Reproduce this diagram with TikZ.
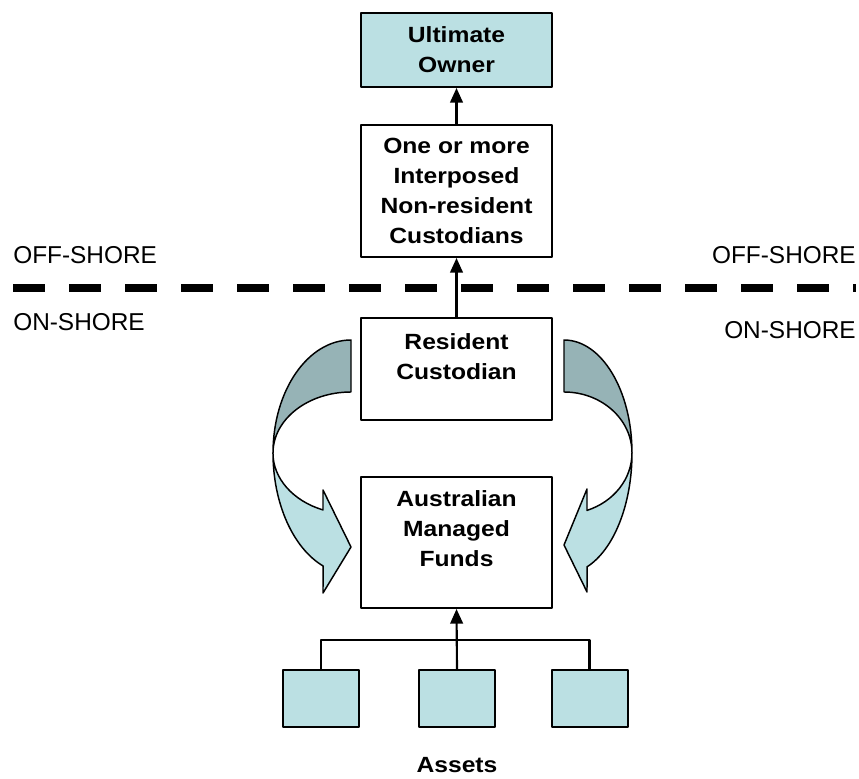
\documentclass[tikz,border=0pt]{standalone}
\usepackage{fontspec}
\setmainfont{Liberation Sans}
\newfontfamily\boxfont[FakeStretch=1.12]{Liberation Sans}
\usetikzlibrary{arrows.meta}
\definecolor{paleblue}{RGB}{187,224,227}
\definecolor{darkblue}{RGB}{150,179,182}
\tikzset{
  box/.style={draw,line width=1.5pt,minimum width=143.25pt,align=center,
    font=\boxfont\bfseries\fontsize{16.5}{22.5}\selectfont},
  asset/.style={draw,line width=1.5pt,fill=paleblue,minimum width=57pt,minimum height=42.75pt},
  shore/.style={font=\fontsize{18.3}{22}\selectfont,inner sep=0pt},
  link/.style={line width=1.6pt},
  curvearrow/.style={draw,line width=1.1pt,line join=round}
}
\begin{document}
\begin{tikzpicture}[x=0.75pt,y=0.75pt,line join=round,>={Triangle[length=11pt,width=9.5pt]}]
		\useasboundingbox (0,0) rectangle (859,778);
		% boundary
		\draw[line width=6pt,dash pattern=on 24pt off 18pt] (13,490) -- (856,490);
		\node[shore,anchor=base west] (offl) at (13,514) {OFF-SHORE};
		\node[shore,anchor=base east] (offr) at (856,514) {OFF-SHORE};
		\node[shore,anchor=base west] (onl) at (13,447) {ON-SHORE};
		\node[shore,anchor=base east] (onr) at (856,439) {ON-SHORE};
		% boxes
		\node[box,fill=paleblue,minimum height=55.5pt] (owner) at (456.5,728) {Ultimate\\Owner};
		\node[box,minimum height=99pt] (interposed) at (456.5,587) {One or more\\Interposed\\Non-resident\\Custodians};
		\node[box,minimum height=76.5pt] (resident) at (456.5,409) {Resident\\Custodian\\[-4pt]\mbox{}};
		\node[box,minimum height=98.25pt] (funds) at (456.5,235.5) {Australian\\Managed\\Funds\\[-1pt]\mbox{}};
		\node[asset] (a1) at (321,79.5) {};
		\node[asset] (a2) at (457,79.5) {};
		\node[asset] (a3) at (589.5,79.5) {};
		\node[box,draw=none,inner sep=0pt] (assets) at (457,13) {Assets};
		\coordinate (jn) at (457,138);
		% connectors
		\draw[->,link] (interposed.north) -- (owner.south);
		\draw[->,link] (resident.north) -- (interposed.south);
		\draw[link] (a1.north) |- (jn) -| (a3.north);
		\draw[->,link] (a2.north) -- (funds.south);
		% curved arrows
		\path[curvearrow,fill=darkblue] (351,438) arc[start angle=90,end angle=180,x radius=78,y radius=113]
			arc[start angle=180,end angle=90,x radius=78,y radius=61] -- cycle;
		\path[curvearrow,fill=paleblue] (273,325) arc[start angle=180,end angle=249,x radius=78,y radius=121]
			-- (323,185) -- (351,231) -- (323,288) -- (323,268.05)
			arc[start angle=249,end angle=180,x radius=78,y radius=61] -- cycle;
		\path[curvearrow,fill=darkblue] (564,438) arc[start angle=90,end angle=0,x radius=68,y radius=113]
			arc[start angle=0,end angle=90,x radius=68,y radius=61] -- cycle;
		\path[curvearrow,fill=paleblue] (632,325) arc[start angle=360,end angle=289.8,x radius=68,y radius=121]
			-- (587,186) -- (564,233) -- (587,289) -- (587,267.6)
			arc[start angle=289.8,end angle=360,x radius=68,y radius=61] -- cycle;
		\end{tikzpicture}
\end{document}
